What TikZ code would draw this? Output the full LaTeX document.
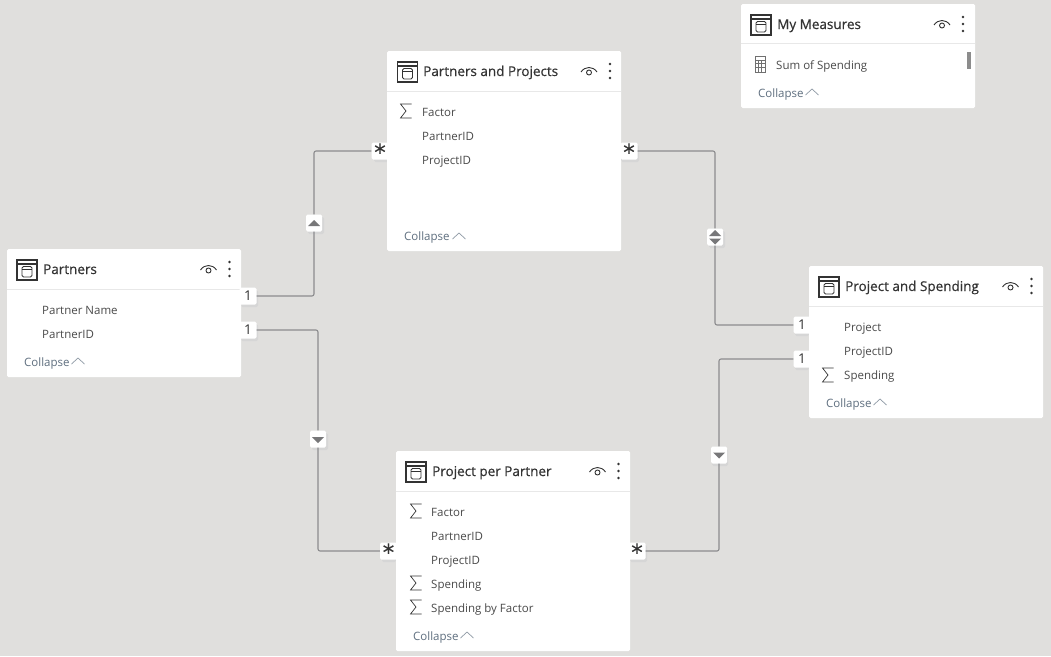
\documentclass[tikz,border=0pt]{standalone}
\usepackage{fontspec}
\setmainfont{Open Sans}
\newfontfamily\titlefont[FakeBold=0.45]{Open Sans}
\newfontfamily\starfont[FakeBold=0.4]{DejaVu Sans}
\usetikzlibrary{positioning}
\definecolor{canvasgrey}{HTML}{E0DFDD}
\definecolor{inkgrey}{HTML}{333333}
\definecolor{fieldgrey}{HTML}{4A4A4A}
\definecolor{collapseblue}{HTML}{5F6F7F}
\definecolor{linegrey}{HTML}{8C8C8E}
\newcommand{\starmark}{\starfont\fontsize{23}{23}\selectfont\raisebox{-9.5pt}{*}}
\tikzset{
    tablecard/.style={fill=white, rounded corners=1.5pt, inner sep=0pt},
    headline/.style={draw=black!9, line width=0.8pt},
    titletext/.style={anchor=base west, yshift=-5pt, inner sep=0pt, text=inkgrey, font=\titlefont\fontsize{13.5}{15}\selectfont},
    fieldtext/.style={anchor=base west, yshift=-4pt, inner sep=0pt, text=fieldgrey, font=\fontsize{11.5}{14}\selectfont},
    collapsetext/.style={anchor=base west, yshift=-4pt, inner sep=0pt, text=collapseblue, font=\fontsize{11.5}{14}\selectfont},
    badge/.style={fill=white, rounded corners=1.5pt, inner sep=0pt, text height=0pt, text depth=0pt, minimum width=17pt, minimum height=17pt, text=inkgrey, font=\fontsize{13.5}{15}\selectfont},
    badgeshade/.style={fill=black!16, rounded corners=1.5pt},
    relline/.style={draw=linegrey, line width=1.1pt, rounded corners=2pt},
    pics/tableicon/.style={code={
        \draw[inkgrey, line width=1.3pt] (-10,-10) rectangle (10,10);
        \draw[inkgrey, line width=1.1pt] (-10,-6) -- (10,-6);
        \draw[inkgrey, line width=0.9pt, rounded corners=1.5pt] (-5,-3.5) rectangle (5,7);
        \draw[inkgrey, line width=0.7pt] (-5,-0.5) -- (5,-0.5);
    }},
    pics/cardtools/.style={code={
        \draw[inkgrey, line width=0.9pt] (-8,1) .. controls (-4,-5) and (4,-5) .. (8,1);
        \draw[inkgrey, line width=0.9pt] (0,1.5) circle (2.5);
        \fill[inkgrey] (21,-7) circle (1.3) (21,0) circle (1.3) (21,7) circle (1.3);
    }},
    pics/sigmaicon/.style={code={
        \draw[inkgrey, line width=0.7pt] (5.5,-7) -- (-5.5,-7) -- (0,0) -- (-5.5,7) -- (5.5,7);
    }},
    pics/chevron/.style={code={
        \draw[collapseblue!70, line width=0.7pt] (-6.5,3) -- (0,-3) -- (6.5,3);
    }},
    pics/calcicon/.style={code={
        \draw[inkgrey!70, line width=0.8pt] (-5,-8) rectangle (5,8);
        \draw[inkgrey!70, line width=0.8pt] (-5,-4) -- (5,-4) (-5,-0.5) -- (5,-0.5) (-5,3) -- (5,3) (-1.7,-4) -- (-1.7,8) (1.7,-4) -- (1.7,8);
    }},
    pics/upmark/.style={code={\fill[linegrey!85!black] (-6,2.5) -- (0,-3.5) -- (6,2.5) -- cycle;}},
    pics/downmark/.style={code={\fill[linegrey!85!black] (-6,-2.5) -- (0,3.5) -- (6,-2.5) -- cycle;}}
}

\begin{document}
\begin{tikzpicture}[x=1pt, y=-1pt]
    % Canvas
    \fill[canvasgrey] (0,0) rectangle (1051,656);
    \useasboundingbox (0,0) rectangle (1051,656);

    % Badge shadows
    \fill[badgeshade] (374,145) rectangle (391,162);
    \fill[badgeshade] (621,145) rectangle (639,162);
    \fill[badgeshade] (241,290) rectangle (258,307);
    \fill[badgeshade] (241,324) rectangle (258,341);
    \fill[badgeshade] (795,319) rectangle (809,336);
    \fill[badgeshade] (795,353) rectangle (809,370);
    \fill[badgeshade] (382,545) rectangle (396,562);
    \fill[badgeshade] (630,545) rectangle (647,562);
    \fill[badgeshade] (308,217) rectangle (324,234);
    \fill[badgeshade] (709,231) rectangle (725,248);
    \fill[badgeshade] (312,433) rectangle (328,450);
    \fill[badgeshade] (712,449) rectangle (728,466);

    % The table cards
    \node[tablecard, minimum width=234pt, minimum height=200pt] (partnersprojects) at (504,151) {};
    \node[tablecard, minimum width=234pt, minimum height=104pt] (measures) at (858,56) {};
    \node[tablecard, minimum width=234pt, minimum height=128pt] (partners) at (124,313) {};
    \node[tablecard, minimum width=234pt, minimum height=152pt] (spending) at (926,342) {};
    \node[tablecard, minimum width=234pt, minimum height=200pt] (perpartner) at (513,551) {};

    % Header rules
    \draw[headline] (387,91) -- (621,91);
    \draw[headline] (741,43) -- (975,43);
    \draw[headline] (7,289) -- (241,289);
    \draw[headline] (809,306) -- (1043,306);
    \draw[headline] (396,491) -- (630,491);

    % Partners and Projects
    \pic at (407.5,72) {tableicon};
    \pic at (589,71) {cardtools};
    \node[titletext] (ppttl) at (423,71) {Partners and Projects};
    \pic at (406,111) {sigmaicon};
    \node[fieldtext] (ppa) at (422,112) {Factor};
    \node[fieldtext] (ppb) at (422,136) {PartnerID};
    \node[fieldtext] (ppc) at (422,160) {ProjectID};
    \node[collapsetext] (ppd) at (404,236) {Collapse};
    \pic at (459,236) {chevron};

    % My Measures
    \pic at (761,25) {tableicon};
    \pic at (942,24) {cardtools};
    \node[titletext] (mmttl) at (777,24) {My Measures};
    \pic at (760,64) {calcicon};
    \node[fieldtext] (mma) at (776,65) {Sum of Spending};
    \fill[black!45] (967,52) rectangle (971,69);
    \node[collapsetext] (mmb) at (758,93) {Collapse};
    \pic at (812,92) {chevron};

    % Partners
    \pic at (27,270) {tableicon};
    \pic at (208.5,269) {cardtools};
    \node[titletext] (ptttl) at (43,269) {Partners};
    \node[fieldtext] (pta) at (42,310) {Partner Name};
    \node[fieldtext] (ptb) at (42,334) {PartnerID};
    \node[collapsetext] (ptc) at (24,362) {Collapse};
    \pic at (78,361) {chevron};

    % Project and Spending
    \pic at (829,287) {tableicon};
    \pic at (1010.5,286) {cardtools};
    \node[titletext] (psttl) at (845,286) {Project and Spending};
    \node[fieldtext] (psa) at (844,327) {Project};
    \node[fieldtext] (psb) at (844,351) {ProjectID};
    \pic at (828,375) {sigmaicon};
    \node[fieldtext] (psc) at (844,375) {Spending};
    \node[collapsetext] (psd) at (826,403) {Collapse};
    \pic at (880,402) {chevron};

    % Project per Partner
    \pic at (416,472) {tableicon};
    \pic at (597.5,471) {cardtools};
    \node[titletext] (prttl) at (432,471) {Project per Partner};
    \pic at (416,511) {sigmaicon};
    \node[fieldtext] (pra) at (431,512) {Factor};
    \node[fieldtext] (prb) at (431,536) {PartnerID};
    \node[fieldtext] (prc) at (431,560) {ProjectID};
    \pic at (416,583) {sigmaicon};
    \node[fieldtext] (prd) at (431,584) {Spending};
    \pic at (416,607) {sigmaicon};
    \node[fieldtext] (pre) at (431,608) {Spending by Factor};
    \node[collapsetext] (prf) at (413,636) {Collapse};
    \pic at (467,635) {chevron};

    % Cardinality badges
    \node[badge] (starppl) at (380,151) {\starmark};
    \node[badge] (starppr) at (629,151) {\starmark};
    \node[badge, text height=9pt] (oneptu) at (248,296) {1};
    \node[badge, text height=9pt] (oneptd) at (248,330) {1};
    \node[badge, text height=9pt] (onepsu) at (802,325) {1};
    \node[badge, text height=9pt] (onepsd) at (802,359) {1};
    \node[badge] (starprl) at (388.5,551) {\starmark};
    \node[badge] (starprr) at (637,551) {\starmark};

    % Filter direction badges
    \node[badge, minimum width=16pt] (dirup) at (314,223) {};
    \node[badge, minimum width=16pt] (dirboth) at (715,237) {};
    \node[badge, minimum width=16pt] (dirleft) at (318,439) {};
    \node[badge, minimum width=16pt] (dirright) at (719,455) {};
    \pic at (314,223.5) {upmark};
    \pic at (715,233.5) {upmark};
    \pic at (715,241) {downmark};
    \pic at (318,439.5) {downmark};
    \pic at (719,455) {downmark};

    % Relationships
    \draw[relline] (oneptu) -| (dirup) |- (starppl);
    \draw[relline] (starppr) -| (dirboth) |- (onepsu);
    \draw[relline] (oneptd) -| (dirleft) |- (starprl);
    \draw[relline] (onepsd) -| (dirright) |- (starprr);
\end{tikzpicture}
\end{document}
